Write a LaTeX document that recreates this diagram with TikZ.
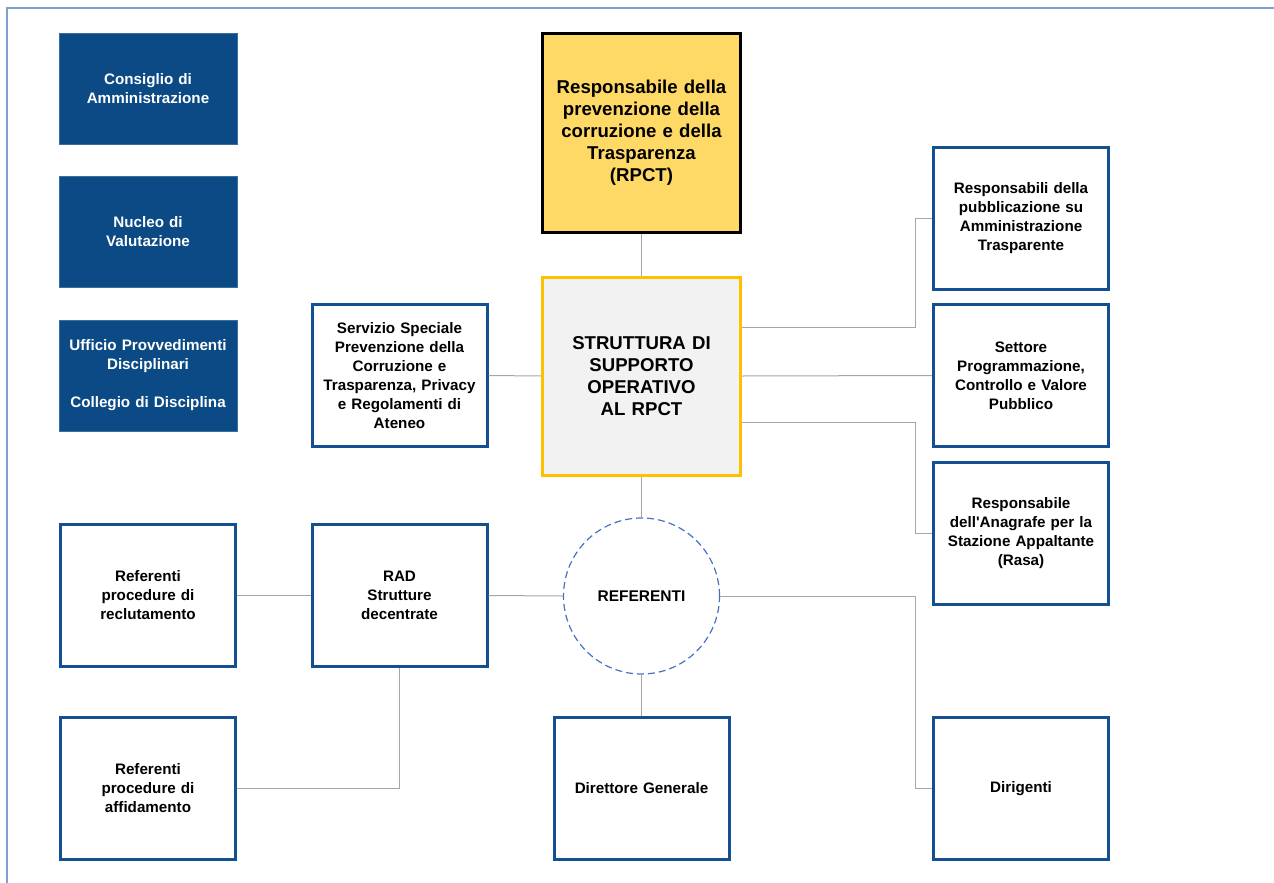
\documentclass[tikz,border=0pt]{standalone}
\usepackage{fontspec}
\setmainfont{Liberation Sans}
\usepackage{tikz}

\definecolor{navy}{RGB}{11,74,132}
\definecolor{boxblue}{RGB}{18,80,145}
\definecolor{rpctyellow}{RGB}{255,217,102}
\definecolor{suppgold}{RGB}{255,192,0}
\definecolor{suppgray}{RGB}{242,242,242}
\definecolor{linkgray}{RGB}{166,166,166}
\definecolor{refblue}{RGB}{68,114,196}
\definecolor{framecol}{RGB}{125,160,205}

\begin{document}
\begin{tikzpicture}[x=1pt, y=-1pt,
		navybox/.style={fill=navy, draw=navy!80!white, line width=0.8pt, minimum width=178pt, minimum height=111pt, inner sep=0pt, text width=172pt, align=center, text=white, font=\fontsize{15.2}{19}\selectfont\bfseries},
		bluebox/.style={draw=boxblue, fill=white, line width=3pt, minimum width=175pt, minimum height=142pt, inner sep=0pt, text width=168pt, align=center, font=\fontsize{15.2}{19}\selectfont\bfseries},
		bigbox/.style={line width=3pt, minimum width=198pt, minimum height=198pt, inner sep=0pt, text width=192pt, align=center, font=\fontsize{18.6}{22}\selectfont\bfseries},
		link/.style={draw=linkgray, line width=1pt}]
			\useasboundingbox (0,0) rectangle (1274,883);
			
			% Frame
			\draw[framecol, line width=2pt] (1274,8) -- (7,8) -- (7,883);
			
			% Left column
			\node[navybox] (cda) at (148,88.5) {Consiglio di\\Amministrazione\\[6pt]};
			\node[navybox] (nucleo) at (148,232) {Nucleo di\\Valutazione\\[6pt]};
			\node[navybox] (upd) at (148,375.5) {Ufficio Provvedimenti\\Disciplinari\\[19pt]Collegio di Disciplina};
			
			% Centre
			\node[bigbox, draw=black, fill=rpctyellow] (rpct) at (641.5,133) {Responsabile della\\prevenzione della\\corruzione e della\\Trasparenza\\(RPCT)\\[12pt]};
			\node[bigbox, draw=suppgold, fill=suppgray] (supp) at (641.5,376) {STRUTTURA DI\\SUPPORTO\\OPERATIVO\\AL RPCT\\[6pt]};
			\node[bluebox] (servizio) at (399.5,375.5) {Servizio Speciale\\Prevenzione della\\Corruzione e\\Trasparenza, Privacy\\e Regolamenti di\\Ateneo};
			\node[circle, draw=refblue, dashed, line width=1.2pt, dash pattern=on 7pt off 4pt, minimum size=156pt, inner sep=0pt, font=\fontsize{15.5}{19}\selectfont\bfseries] (ref) at (641.5,596) {REFERENTI};
			\node[bluebox] (dg) at (641.5,788.5) {Direttore Generale};
			
			% Right column
			\node[bluebox] (pubbl) at (1021,218) {Responsabili della\\pubblicazione su\\Amministrazione\\Trasparente\\[10pt]};
			\node[bluebox] (settore) at (1021,375.5) {Settore\\Programmazione,\\Controllo e Valore\\Pubblico\\[6pt]};
			\node[bluebox] (rasa) at (1021,533.5) {Responsabile\\dell\textquotesingle Anagrafe per la\\Stazione Appaltante\\(Rasa)\\[10pt]};
			\node[bluebox] (dirig) at (1021,788.5) {Dirigenti};
			
			% Lower left
			\node[bluebox] (reclut) at (148,595.5) {Referenti\\procedure di\\reclutamento};
			\node[bluebox] (rad) at (399.5,595.5) {RAD\\Strutture\\decentrate\\[10pt]};
			\node[bluebox] (affid) at (148,788.5) {Referenti\\procedure di\\affidamento};
			
			% Connectors
			\coordinate (jr) at (915.5,0);
			\draw[link] (rpct.south) -- (supp.north);
			\draw[link] (servizio.east) -- (supp.west);
			\draw[link] ([yshift=49pt]supp.east) -- ([yshift=49pt]supp.east -| jr) |- (pubbl.west);
			\draw[link] (supp.east) -- (settore.west);
			\draw[link] ([yshift=-46pt]supp.east) -- ([yshift=-46pt]supp.east -| jr) |- (rasa.west);
			\draw[link] (supp.south) -- (ref.north);
			\draw[link] (ref.west) -- (rad.east);
			\draw[link] (rad.west) -- (reclut.east);
			\draw[link] (rad.south) |- (affid.east);
			\draw[link] (ref.south) -- (dg.north);
			\draw[link] (ref.east) -- (ref.east -| jr) |- (dirig.west);
		\end{tikzpicture}
\end{document}
